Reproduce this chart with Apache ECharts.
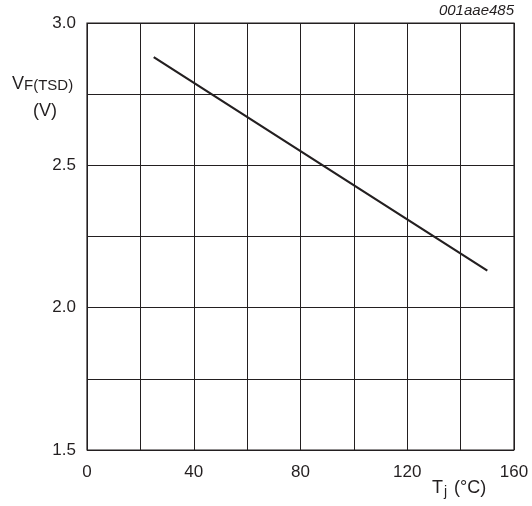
<!DOCTYPE html>
<html>
<head>
<meta charset="utf-8">
<script src="https://cdn.jsdelivr.net/npm/echarts@6/dist/echarts.min.js"></script>
<style>
  html, body { margin: 0; padding: 0; background: #fff; }
  #chart { width: 532px; height: 506px; }
</style>
</head>
<body>
<div id="chart"></div>
<script>
// Junction temperature (°C) vs. forward voltage of the temperature sense diode (V)
const tempC = [25, 80, 150];
const vfTsd = [2.88, 2.55, 2.13];

const xTickLabels = ['0', '40', '80', '120', '160'];
const yTickLabels = ['1.5', '2.0', '2.5', '3.0'];

const FONT = '"Liberation Sans", Arial, Helvetica, sans-serif';
const INK = '#231f20';

const points = tempC.map((t, i) => [t, vfTsd[i]]);

const chart = echarts.init(document.getElementById('chart'), null, { renderer: 'canvas' });

chart.setOption({
  animation: false,
  backgroundColor: '#ffffff',
  grid: { left: 87, right: 18, top: 23, bottom: 56, show: true, borderColor: INK, borderWidth: 1.2 },
  xAxis: {
    type: 'value',
    min: 0, max: 160, interval: 20,
    axisLine: { show: false },
    axisTick: { show: false },
    splitLine: { show: true, lineStyle: { color: INK, width: 1 } },
    axisLabel: {
      margin: 14,
      fontFamily: FONT, fontSize: 17, color: INK,
      formatter: v => (xTickLabels.includes(String(v)) ? String(v) : '')
    }
  },
  yAxis: {
    type: 'value',
    min: 1.5, max: 3.0, interval: 0.25,
    axisLine: { show: false },
    axisTick: { show: false },
    splitLine: { show: true, lineStyle: { color: INK, width: 1 } },
    axisLabel: {
      margin: 11,
      fontFamily: FONT, fontSize: 17, color: INK,
      formatter: v => {
        const s = v.toFixed(1);
        return (Math.abs(v * 2 - Math.round(v * 2)) < 1e-9 && yTickLabels.includes(s)) ? s : '';
      }
    }
  },
  series: [{
    type: 'line',
    data: points,
    showSymbol: false,
    lineStyle: { color: INK, width: 2.2 },
    silent: true
  }],
  graphic: [
    {
      type: 'text', right: 18, top: 3,
      style: { text: '001aae485', font: 'italic 15px ' + FONT, fill: INK }
    },
    {
      type: 'text', left: 12, top: 75,
      style: {
        text: '{v|V}{s|F(TSD)}',
        rich: {
          v: { fontFamily: FONT, fontSize: 18, fill: INK, verticalAlign: 'bottom' },
          s: { fontFamily: FONT, fontSize: 15, fill: INK, padding: [7, 0, 0, 0] }
        }
      }
    },
    {
      type: 'text', x: 45, y: 111,
      style: { text: '(V)', font: '18px ' + FONT, fill: INK, align: 'center', verticalAlign: 'middle' }
    },
    {
      type: 'text', left: 432, top: 479,
      style: {
        text: '{t|T}{s|j}{t| (°C)}',
        rich: {
          t: { fontFamily: FONT, fontSize: 18, fill: INK },
          s: { fontFamily: FONT, fontSize: 14, fill: INK, padding: [8, 2, 0, 1] }
        }
      }
    }
  ]
});
</script>
</body>
</html>
